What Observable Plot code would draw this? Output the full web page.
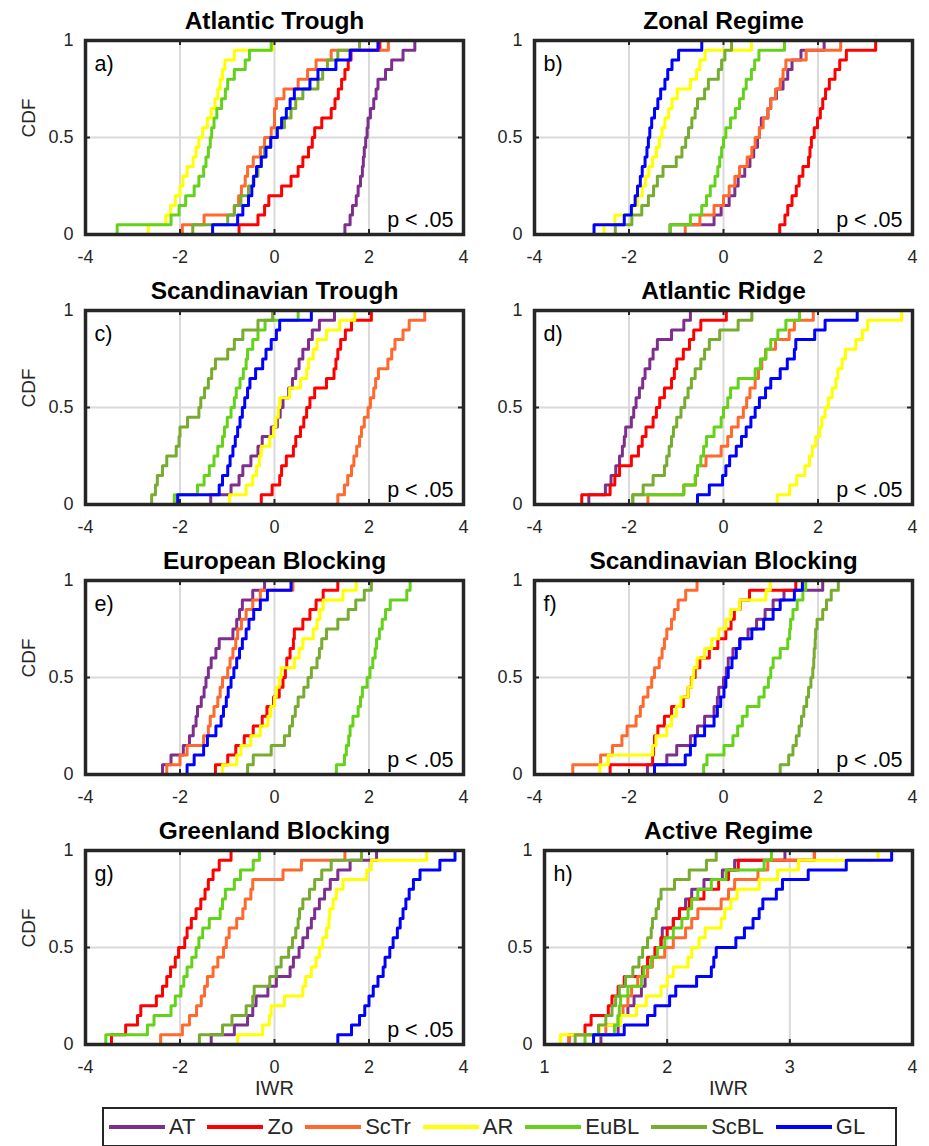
<!DOCTYPE html>
<html><head><meta charset="utf-8">
<script src="https://cdn.jsdelivr.net/npm/d3@7"></script>
<script src="https://cdn.jsdelivr.net/npm/@observablehq/plot@0.6"></script>
<style>
body{margin:0;background:#fff;font-family:"Liberation Sans",Arial,sans-serif;}
#wrap{position:relative;width:929px;height:1146px;overflow:hidden;background:#fff;}
.panel{position:absolute;}
#legend{position:absolute;left:102px;top:1107px;width:795px;height:40px;border:2px solid #262626;box-sizing:border-box;display:flex;align-items:center;padding-left:5px;gap:12px;font-size:22px;color:#262626;}
.item{display:flex;align-items:center;}
.swatch{display:inline-block;width:56px;height:4px;margin-right:4px;}
</style></head>
<body><div id="wrap"><div id="legend"></div></div>
<script>
const seriesNames = ["AT","Zo","ScTr","AR","EuBL","ScBL","GL"];
const seriesColors = ["#7E2F8E","#FF0000","#FF692D","#FFFF00","#64D21A","#77AC30","#0000FF"];
const panelTitles = ["Atlantic Trough","Zonal Regime","Scandinavian Trough","Atlantic Ridge","European Blocking","Scandinavian Blocking","Greenland Blocking","Active Regime"];
const panelLetters = ["a","b","c","d","e","f","g","h"];
const ticksX = [-4,-2,0,2,4];
const ticksXActive = [1,2,3,4];
const ticksY = [0,0.5,1];

// sorted samples per series, order: AT, Zo, ScTr, AR, EuBL, ScBL, GL
const panelA = [
 [1.49,1.6,1.65,1.73,1.77,1.82,1.86,1.88,1.9,1.93,1.96,1.98,2.03,2.1,2.15,2.19,2.35,2.48,2.72,2.97],
 [-0.75,-0.35,-0.21,-0.12,0.15,0.35,0.5,0.6,0.72,0.8,0.85,1.0,1.2,1.28,1.35,1.42,1.49,1.56,1.62,2.23],
 [-1.95,-1.49,-0.85,-0.76,-0.7,-0.62,-0.57,-0.45,-0.3,-0.21,-0.07,0.0,0.0,0.04,0.2,0.5,0.7,0.88,1.2,2.41],
 [-2.67,-2.3,-2.2,-2.1,-2.0,-1.94,-1.85,-1.72,-1.66,-1.6,-1.52,-1.42,-1.34,-1.26,-1.2,-1.15,-1.1,-1.05,-0.85,-0.04],
 [-3.33,-2.19,-2.02,-1.88,-1.7,-1.6,-1.5,-1.45,-1.4,-1.36,-1.33,-1.28,-1.22,-1.12,-1.04,-0.99,-0.85,-0.62,-0.53,-0.07],
 [-1.73,-0.99,-0.85,-0.71,-0.55,-0.45,-0.35,-0.28,-0.21,-0.08,0.05,0.21,0.35,0.45,0.6,0.92,1.02,1.12,1.34,1.8],
 [-1.31,-0.78,-0.67,-0.55,-0.48,-0.44,-0.38,-0.28,-0.18,-0.08,0.06,0.15,0.25,0.33,0.42,0.75,0.92,1.3,1.6,2.19]
];
const panelB = [
 [-1.13,-0.2,-0.05,0.12,0.24,0.31,0.45,0.56,0.64,0.72,0.76,0.8,0.94,1.0,1.12,1.26,1.36,1.45,1.64,2.13],
 [1.19,1.3,1.36,1.45,1.54,1.6,1.68,1.8,1.83,1.86,1.92,1.99,2.05,2.1,2.16,2.24,2.36,2.46,2.6,3.22],
 [-0.81,-0.5,-0.2,0.0,0.12,0.24,0.34,0.5,0.6,0.67,0.76,0.84,0.94,1.0,1.1,1.2,1.26,1.32,1.75,2.48],
 [-2.53,-2.3,-1.94,-1.82,-1.72,-1.65,-1.58,-1.5,-1.42,-1.36,-1.3,-1.24,-1.16,-1.09,-0.98,-0.7,-0.57,-0.5,-0.39,0.59],
 [-1.13,-0.7,-0.46,-0.36,-0.28,-0.18,-0.12,-0.08,-0.04,0.0,0.05,0.15,0.25,0.34,0.42,0.48,0.59,0.66,0.75,1.29],
 [-2.29,-1.94,-1.73,-1.59,-1.48,-1.4,-1.28,-1.0,-0.88,-0.8,-0.74,-0.67,-0.6,-0.55,-0.4,-0.32,-0.11,-0.04,0.03,0.17],
 [-2.74,-2.1,-1.95,-1.87,-1.82,-1.76,-1.72,-1.66,-1.62,-1.59,-1.56,-1.52,-1.46,-1.39,-1.33,-1.24,-1.18,-1.09,-0.95,-0.46]
];
const panelC = [
 [-1.35,-0.92,-0.75,-0.67,-0.5,-0.35,-0.26,-0.07,0.06,0.12,0.18,0.3,0.38,0.45,0.52,0.6,0.72,0.8,0.95,1.27],
 [-0.28,-0.05,0.11,0.15,0.25,0.4,0.45,0.55,0.62,0.68,0.75,0.85,1.1,1.26,1.3,1.34,1.4,1.5,1.63,2.05],
 [1.34,1.48,1.55,1.63,1.68,1.74,1.8,1.84,1.9,1.98,2.03,2.1,2.14,2.2,2.4,2.48,2.55,2.72,2.85,3.18],
 [-0.95,-0.6,-0.46,-0.38,-0.32,-0.28,-0.1,-0.02,0.03,0.08,0.11,0.32,0.55,0.68,0.72,0.82,0.9,1.1,1.38,1.7],
 [-2.12,-1.63,-1.49,-1.38,-1.28,-1.2,-1.1,-1.06,-1.0,-0.92,-0.85,-0.81,-0.73,-0.66,-0.6,-0.57,-0.46,-0.35,-0.2,0.5],
 [-2.6,-2.52,-2.48,-2.37,-2.28,-2.08,-2.02,-2.0,-1.84,-1.6,-1.56,-1.48,-1.4,-1.33,-1.25,-0.99,-0.85,-0.67,-0.35,-0.04],
 [-2.05,-1.17,-1.1,-0.99,-0.94,-0.88,-0.83,-0.78,-0.73,-0.68,-0.63,-0.57,-0.52,-0.4,-0.25,-0.18,-0.07,0.04,0.11,0.78]
];
const panelD = [
 [-2.85,-2.5,-2.38,-2.28,-2.2,-2.14,-2.1,-2.07,-1.95,-1.9,-1.85,-1.78,-1.71,-1.66,-1.56,-1.49,-1.4,-1.1,-0.84,-0.7],
 [-3.0,-2.4,-2.3,-2.2,-1.95,-1.8,-1.72,-1.64,-1.49,-1.42,-1.35,-1.25,-1.1,-1.04,-0.99,-0.85,-0.72,-0.63,-0.48,0.06],
 [-1.6,-0.84,-0.59,-0.55,-0.37,-0.05,0.09,0.17,0.31,0.42,0.49,0.56,0.67,0.74,0.81,0.89,1.1,1.39,1.5,1.9],
 [1.14,1.4,1.55,1.72,1.82,1.88,1.95,2.04,2.08,2.15,2.22,2.3,2.38,2.42,2.51,2.58,2.8,2.94,3.05,3.77],
 [-1.92,-0.84,-0.6,-0.55,-0.48,-0.42,-0.36,-0.2,-0.05,0.0,0.09,0.15,0.31,0.67,0.78,0.9,1.0,1.15,1.32,1.61],
 [-1.92,-1.7,-1.49,-1.25,-1.2,-1.15,-1.1,-1.06,-0.99,-0.9,-0.82,-0.75,-0.68,-0.6,-0.48,-0.4,-0.3,-0.08,0.31,0.6],
 [-0.55,-0.3,-0.02,0.05,0.13,0.27,0.38,0.48,0.58,0.67,0.76,0.89,1.0,1.2,1.35,1.5,1.53,1.93,2.15,2.83]
];
const panelE = [
 [-2.37,-2.19,-1.93,-1.8,-1.72,-1.66,-1.63,-1.55,-1.49,-1.45,-1.4,-1.34,-1.24,-1.17,-0.88,-0.8,-0.74,-0.68,-0.46,-0.21],
 [-1.25,-0.99,-0.82,-0.64,-0.45,-0.26,-0.16,-0.02,0.1,0.18,0.23,0.26,0.33,0.4,0.42,0.6,0.75,0.88,1.03,1.34],
 [-2.28,-2.0,-1.85,-1.5,-1.4,-1.36,-1.28,-1.2,-1.15,-1.1,-0.99,-0.94,-0.88,-0.82,-0.78,-0.7,-0.6,-0.46,-0.3,0.39],
 [-1.1,-0.8,-0.71,-0.5,-0.3,-0.14,-0.08,0.0,0.04,0.1,0.14,0.42,0.52,0.6,0.82,0.9,0.96,1.03,1.45,1.73],
 [1.31,1.48,1.52,1.57,1.6,1.66,1.77,1.82,1.86,1.96,2.02,2.08,2.13,2.16,2.22,2.28,2.35,2.45,2.8,2.87],
 [-0.57,-0.45,-0.07,0.21,0.32,0.38,0.44,0.5,0.62,0.71,0.78,0.9,0.95,1.0,1.1,1.34,1.56,1.72,1.9,2.05],
 [-1.85,-1.7,-1.5,-1.42,-1.24,-1.13,-1.08,-1.02,-0.98,-0.92,-0.86,-0.8,-0.74,-0.68,-0.6,-0.54,-0.44,-0.3,-0.15,0.35]
];
const panelF = [
 [-1.61,-1.2,-0.99,-0.7,-0.55,-0.4,-0.2,-0.13,-0.1,0.0,0.06,0.1,0.2,0.34,0.52,0.7,0.88,1.05,1.28,2.1],
 [-2.4,-1.5,-1.48,-1.46,-1.39,-1.25,-1.1,-0.85,-0.75,-0.68,-0.6,-0.5,-0.3,-0.12,0.05,0.16,0.23,0.35,0.55,1.53],
 [-3.19,-2.6,-2.35,-2.15,-2.04,-1.85,-1.76,-1.7,-1.6,-1.52,-1.46,-1.36,-1.3,-1.25,-1.2,-1.1,-1.04,-0.96,-0.8,-0.56],
 [-2.62,-2.44,-1.5,-1.43,-1.2,-1.1,-1.0,-0.9,-0.75,-0.67,-0.63,-0.56,-0.4,-0.25,-0.1,0.05,0.15,0.34,0.9,0.99],
 [-0.42,-0.35,0.01,0.2,0.3,0.4,0.5,0.75,0.86,0.95,1.0,1.05,1.2,1.36,1.4,1.42,1.47,1.56,1.68,1.74],
 [1.2,1.38,1.47,1.54,1.6,1.65,1.7,1.76,1.8,1.85,1.89,1.91,1.92,1.94,1.95,1.98,2.1,2.18,2.28,2.43],
 [-1.46,-0.81,-0.7,-0.6,-0.4,-0.2,-0.13,-0.06,0.01,0.05,0.1,0.18,0.27,0.35,0.6,0.85,1.05,1.2,1.5,1.67]
];
const panelG = [
 [-1.34,-0.85,-0.57,-0.46,-0.39,-0.14,0.04,0.33,0.4,0.52,0.6,0.7,0.78,0.85,0.95,1.06,1.18,1.34,1.6,2.16],
 [-3.45,-3.15,-2.9,-2.83,-2.5,-2.37,-2.28,-2.2,-2.1,-2.03,-1.9,-1.85,-1.76,-1.66,-1.56,-1.47,-1.4,-1.3,-1.17,-0.92],
 [-2.41,-1.95,-1.8,-1.65,-1.55,-1.48,-1.42,-1.3,-1.2,-1.08,-1.02,-0.96,-0.8,-0.67,-0.62,-0.5,-0.46,0.18,0.57,1.49],
 [-0.78,-0.25,-0.11,-0.07,0.21,0.6,0.66,0.78,0.88,0.95,1.02,1.1,1.15,1.17,1.24,1.31,1.45,1.95,2.05,3.22],
 [-3.57,-2.69,-2.55,-2.19,-2.1,-1.98,-1.92,-1.85,-1.75,-1.66,-1.6,-1.52,-1.38,-1.15,-1.1,-1.04,-0.85,-0.72,-0.45,-0.32],
 [-1.59,-1.1,-0.9,-0.6,-0.46,-0.43,-0.1,0.04,0.14,0.3,0.38,0.45,0.5,0.53,0.6,0.74,0.85,1.0,1.2,1.84],
 [1.34,1.63,1.8,1.91,2.0,2.09,2.19,2.3,2.34,2.44,2.51,2.6,2.66,2.72,2.78,2.85,2.94,3.08,3.5,3.82]
];
const panelH = [
 [1.46,1.6,1.62,1.68,1.73,1.79,1.82,1.84,1.87,1.91,1.95,1.96,2.05,2.1,2.15,2.2,2.3,2.45,2.55,2.96],
 [1.2,1.33,1.38,1.52,1.55,1.6,1.65,1.8,1.84,1.9,1.95,2.0,2.05,2.1,2.18,2.3,2.42,2.5,2.58,3.2],
 [1.2,1.5,1.6,1.64,1.68,1.71,1.76,1.84,1.88,1.98,2.05,2.15,2.2,2.25,2.44,2.5,2.55,2.74,2.82,3.2],
 [1.13,1.45,1.62,1.75,1.83,1.95,2.0,2.05,2.17,2.2,2.26,2.31,2.44,2.47,2.52,2.57,2.75,2.9,3.07,3.72],
 [1.33,1.57,1.6,1.61,1.62,1.68,1.79,1.81,1.87,1.92,1.98,2.05,2.12,2.17,2.2,2.25,2.36,2.48,2.79,2.85],
 [1.25,1.44,1.5,1.55,1.58,1.61,1.66,1.72,1.77,1.8,1.84,1.87,1.88,1.91,1.93,1.95,2.06,2.18,2.32,2.4],
 [1.4,1.65,1.84,1.9,2.02,2.07,2.24,2.36,2.38,2.4,2.56,2.63,2.7,2.75,2.78,2.89,2.94,3.15,3.46,3.83]
];
const panels = [panelA,panelB,panelC,panelD,panelE,panelF,panelG,panelH];

const FONT = "'Liberation Sans', Arial, Helvetica, sans-serif";
const INK = "#262626";
const W = 470, MT = 40, MR = 7, PH = 194;

function cdfRows(values) {
  const v = values.slice().sort((a,b)=>a-b);
  const n = v.length;
  const rows = [{x: v[0], y: 0}];
  v.forEach((x,i)=>rows.push({x, y:(i+1)/n}));
  return rows;
}

function makePanel(k) {
  const col = k % 2, row = Math.floor(k / 2);
  const last = row === 3;
  const active = k === 7;
  const ML = active ? 95 : 85;
  const PW = W - ML - MR;
  const xt = active ? ticksXActive : ticksX;
  const H = last ? 290 : 270;
  const marks = [
    Plot.gridX(xt, {stroke:"#dadada", strokeOpacity:1, strokeWidth:2}),
    Plot.gridY([0.5], {stroke:"#dadada", strokeOpacity:1, strokeWidth:2}),
  ];
  panels[k].forEach((vals,i)=>{
    marks.push(Plot.line(cdfRows(vals), {x:"x", y:"y", stroke: seriesColors[i], strokeWidth:3, curve:"step-after"}));
  });
  marks.push(
    Plot.ruleX(xt, {stroke:INK, strokeWidth:2, insetBottom: PH-5}),
    Plot.ruleX(xt, {stroke:INK, strokeWidth:2, insetTop: PH-5}),
    Plot.ruleY(ticksY, {stroke:INK, strokeWidth:2, insetRight: PW-5}),
    Plot.ruleY(ticksY, {stroke:INK, strokeWidth:2, insetLeft: PW-5}),
    Plot.frame({stroke:INK, strokeWidth:3.5}),
    Plot.axisX(xt, {tickSize:0, tickPadding:16, fontSize:18, tickFormat:d=>String(d), label:null, fill:INK}),
    Plot.axisY(ticksY, {tickSize:0, tickPadding:12, fontSize:18, tickFormat:d=>String(d), label:null, fill:INK}),
    Plot.text([panelTitles[k]], {text:d=>d, frameAnchor:"top", dy:-12, lineAnchor:"bottom", fontWeight:"bold", fontSize:24.5, fill:"#000"}),
    Plot.text([panelLetters[k] + ")"], {text:d=>d, frameAnchor:"top-left", dx:9, dy:15, textAnchor:"start", lineAnchor:"top", fontSize:21.5, fill:"#000"})
  );
  if (!active) marks.push(Plot.text(["p < .05"], {text:d=>d, frameAnchor:"bottom-right", dx:-10, dy:-8, textAnchor:"end", lineAnchor:"bottom", fontSize:21.5, fill:"#000"}));
  if (col === 0) marks.push(Plot.text(["CDF"], {text:d=>d, frameAnchor:"left", dx:-57, rotate:-90, fontSize:19, fill:INK}));
  if (last) marks.push(Plot.text(["IWR"], {text:d=>d, frameAnchor:"bottom", dy:50, fontSize:20, fill:INK}));
  const svg = Plot.plot({
    width: W, height: H,
    marginTop: MT, marginLeft: ML, marginRight: MR, marginBottom: H - MT - PH,
    x: {domain: active ? [1,4] : [-4,4], label:null},
    y: {domain: [0,1], label:null},
    style: {fontFamily: FONT, background:"transparent", overflow:"visible"},
    marks
  });
  const div = document.createElement("div");
  div.className = "panel";
  div.style.left = (col === 0 ? 0 : 449) + "px";
  div.style.top = (row * 270) + "px";
  div.appendChild(svg);
  document.getElementById("wrap").appendChild(div);
}
for (let k = 0; k < 8; k++) makePanel(k);

const legend = document.getElementById("legend");
seriesNames.forEach((nm,i)=>{
  const it = document.createElement("div");
  it.className = "item";
  const sw = document.createElement("span");
  sw.className = "swatch";
  sw.style.background = seriesColors[i];
  const tx = document.createElement("span");
  tx.textContent = nm;
  it.appendChild(sw); it.appendChild(tx);
  legend.appendChild(it);
});
</script>
</body></html>
